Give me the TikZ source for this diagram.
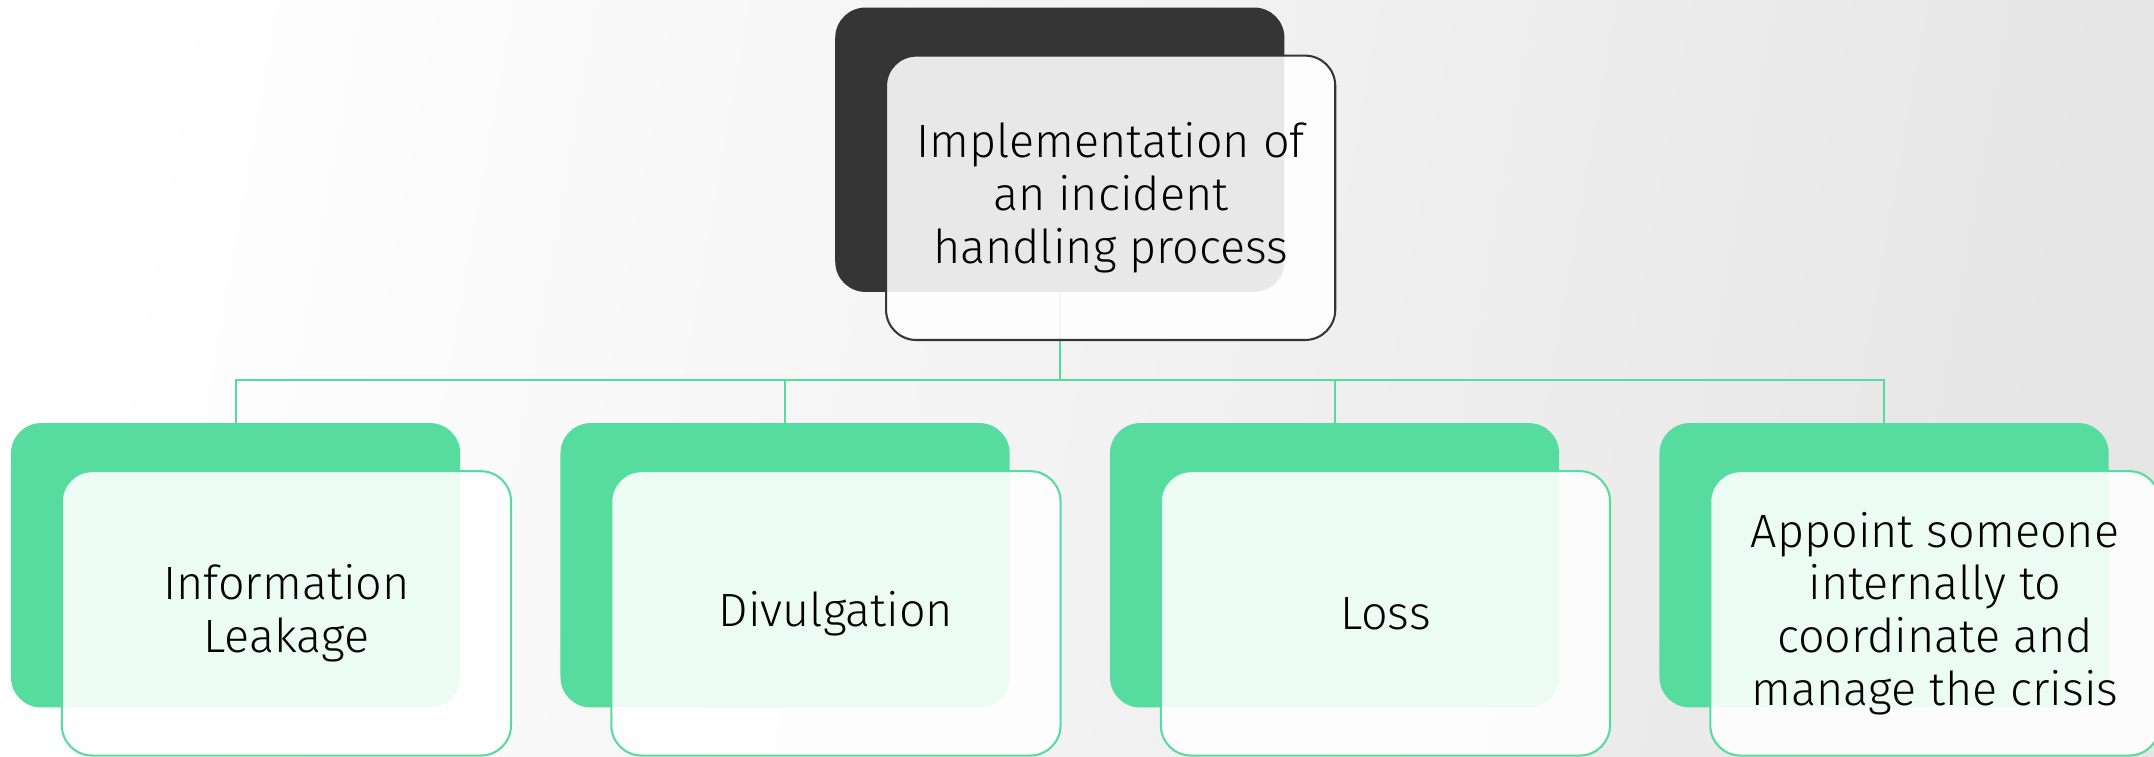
\documentclass[tikz,border=0pt]{standalone}
\usepackage{fontspec}
\IfFontExistsTF{Fira Sans Light}{\setmainfont{Fira Sans Light}}{\setmainfont{Open Sans}}
\definecolor{mint}{HTML}{55DC9E}
\definecolor{ink}{HTML}{353535}
\definecolor{bgfar}{HTML}{E6E6E6}
\pgfdeclarelayer{canvas}
\pgfdeclarelayer{links}
\pgfsetlayers{canvas,links,main}

\begin{document}
\begin{tikzpicture}[x=0.5pt,y=0.5pt,
  card/.style={rounded corners=11pt, minimum width=163.5pt, minimum height=103.5pt, inner sep=0pt},
  backdark/.style={card, fill=ink},
  backgreen/.style={card, fill=mint},
  front/.style={card, fill=white, fill opacity=0.89, text opacity=1, line width=0.75pt,
    align=center, font=\fontsize{17}{19.2}\selectfont},
  frontdark/.style={front, draw=ink},
  frontgreen/.style={front, draw=mint},
  link/.style={draw=mint, line width=0.75pt}]

\useasboundingbox (0,0) rectangle (1568,551);
\clip (0,0) rectangle (1568,551);

% soft grey background
\begin{pgfonlayer}{canvas}
  \shade[left color=white, right color=bgfar, shading angle=80] (0,0) rectangle (1568,551);
\end{pgfonlayer}

% root card
\node[backdark] (rootB) at (771.5,442) {};
\node[frontdark] (root) at (808.5,407) {Implementation of\\an incident\\handling process};

% child cards
\node[backgreen] (c1B) at (171.5,139.5) {};
\node[frontgreen] (c1) at (208.5,104.5) {Information\\Leakage};
\node[backgreen] (c2B) at (571.5,139.5) {};
\node[frontgreen] (c2) at (608.5,104.5) {Divulgation};
\node[backgreen] (c3B) at (971.5,139.5) {};
\node[frontgreen] (c3) at (1008.5,104.5) {Loss};
\node[backgreen] (c4B) at (1371.5,139.5) {};
\node[frontgreen] (c4) at (1408.5,104.5) {Appoint someone\\internally to\\coordinate and\\manage the crisis};

% tree connectors, kept under the cards
\begin{pgfonlayer}{links}
  \path (rootB.south) ++(0,-64) coordinate (hub);
  \draw[link] (rootB.south) -- (hub);
  \draw[link] (hub) -| (c1B.north);
  \draw[link] (hub) -| (c2B.north);
  \draw[link] (hub) -| (c3B.north);
  \draw[link] (hub) -| (c4B.north);
\end{pgfonlayer}
\end{tikzpicture}
\end{document}
